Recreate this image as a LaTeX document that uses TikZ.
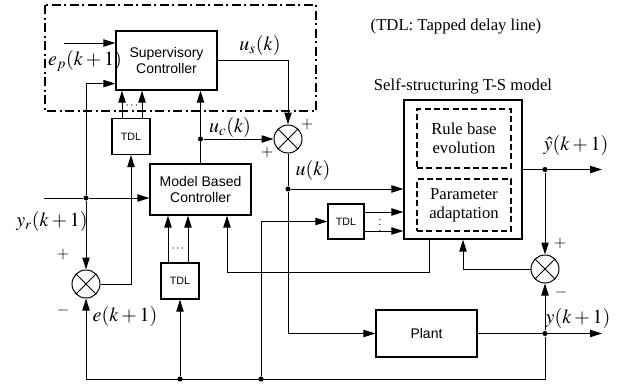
\documentclass[tikz,border=0pt]{standalone}
\usepackage{mathptmx}
\usepackage{fontspec}
\setmainfont{Liberation Serif}
\setsansfont{Liberation Sans}
\usetikzlibrary{arrows.meta,calc}

\tikzset{every picture/.style={line width=0.75pt}}
\tikzset{
  arr/.style={-{Triangle[length=9pt,width=5.5pt]}},
  blk/.style={draw, line width=0.9pt, align=center, inner sep=0pt, font=\sffamily\fontsize{10.5}{12.5}\selectfont},
  tdl/.style={draw, line width=0.9pt, inner sep=0pt, minimum width=28.5pt, minimum height=27pt, font=\sffamily\fontsize{8}{9}\selectfont},
  subblk/.style={draw, line width=1.3pt, dash pattern=on 4.5pt off 2.5pt, align=center, inner sep=0pt, minimum width=70.5pt, font=\fontsize{12.5}{14.5}\selectfont},
  sumnode/.style={draw, circle, minimum size=21pt, inner sep=0pt,
    path picture={\draw (path picture bounding box.north west) -- (path picture bounding box.south east)
      (path picture bounding box.north east) -- (path picture bounding box.south west);}},
  jdot/.style={circle, fill, inner sep=0pt, minimum size=3.8pt},
  mlbl/.style={inner sep=0.75pt, font=\fontsize{15}{18}\selectfont},
  sgn/.style={inner sep=0.75pt, font=\fontsize{12}{14}\selectfont},
  txt/.style={inner sep=0.75pt, font=\fontsize{12.5}{15}\selectfont}
}

\begin{document}
\begin{tikzpicture}[x=0.75pt,y=0.75pt,yscale=-1,xscale=1]
\useasboundingbox (0,0) rectangle (621,386);

%Shape: dash-dot frame round the supervisory part
\draw [line width=1.1pt, dash pattern=on 7pt off 2.5pt on 1.5pt off 2.5pt] (45,5) rectangle (316,111);

%Blocks
\node [blk, minimum width=75.75pt, minimum height=44.25pt] (sup) at (166.5,60.5) {Supervisory\\Controller};
\node [blk, minimum width=75.75pt, minimum height=38.25pt] (mbc) at (200.5,189.5) {Model Based\\Controller};
\node [blk, minimum width=75.75pt, minimum height=35.25pt] (plant) at (426.5,333.5) {Plant};
\node [tdl] (tdlA) at (131,136.5) {TDL};
\node [tdl] (tdlB) at (180,281) {TDL};
\node [tdl, minimum width=27pt, minimum height=26.25pt] (tdlC) at (346,221.5) {TDL};
\node [blk, minimum width=88.5pt, minimum height=104.25pt] (ts) at (463,169.5) {};
\node [subblk, minimum height=44.25pt] (rule) at (464,138.5) {Rule base\\evolution};
\node [subblk, minimum height=39pt] (param) at (464,205) {Parameter\\adaptation};

%Summing junctions
\node [sumnode] (s1) at (86,284) {};
\node [sumnode] (s2) at (288,139) {};
\node [sumnode] (s3) at (545,269) {};

%Branch points and free ends
\coordinate (epin) at (64,43);
\coordinate (yrin) at (44,198);
\coordinate (bl) at (86,379);
\coordinate (yhout) at (602,169.5);
\coordinate (yout) at (602,333.5);
\node [jdot] (ja) at (86,198) {};
\node [jdot] (jc) at (200.5,139) {};
\node [jdot] (ju) at (288,189) {};
\node [jdot] (jh) at (545,169.5) {};
\node [jdot] (jy) at (545,333.5) {};
\node [jdot] (jb1) at (180,379) {};
\node [jdot] (jb2) at (261,379) {};

%Straight Lines
\draw [arr] (epin) -- (epin -| sup.west);
\draw (yrin) -- (ja);
\draw [arr] (ja) -- (ja -| mbc.west);
\draw [arr] (ja) |- ($(sup.south west)+(0,-7)$);
\draw [arr] (ja) -- (s1.north);
\draw [arr] (s1.east) -| (tdlA.south);
\draw [arr] ($(tdlA.north)+(-9,0)$) coordinate (a1) -- (a1 |- sup.south);
\draw [arr] ($(tdlA.north)+(11,0)$) coordinate (a2) -- (a2 |- sup.south);
\draw [arr] (mbc.north) -- (mbc.north |- sup.south);
\draw [arr] (jc) -- (s2.west);
\draw [arr] (sup.east) -| (s2.north);
\draw (s2.south) -- (ju);
\draw [arr] (ju) -- (ju -| ts.west);
\draw [arr] (ju) |- (plant.west);
\draw [arr] (plant.east) -- (yout);
\draw [arr] (jy) |- (bl) -- (s1.south);
\draw [arr] (jy) -- (s3.south);
\draw [arr] (jb1) -- (tdlB.south);
\draw [arr] (jb2) |- (tdlC.west);
\draw [arr] ($(tdlB.north)+(-12,0)$) coordinate (b1) -- (b1 |- mbc.south);
\draw [arr] ($(tdlB.north)+(8,0)$) coordinate (b2) -- (b2 |- mbc.south);
\draw [arr] ($(tdlC.east)+(0,-9.5)$) coordinate (c1) -- (c1 -| ts.west);
\draw [arr] ($(tdlC.east)+(0,9.5)$) coordinate (c2) -- (c2 -| ts.west);
\draw [arr] ($(ts.south)+(-34,0)$) -- ++(0,33) -| ($(mbc.south)+(26.5,0)$);
\draw [arr] (ts.east) -- (yhout);
\draw [arr] (jh) -- (s3.north);
\draw [arr] (s3.west) -| (ts.south);

% Text Node
\node [inner sep=0pt, font=\fontsize{9}{10}\selectfont] (dA) at (132,106) {$\cdots$};
\node [inner sep=0pt, font=\fontsize{9}{10}\selectfont] (dB) at (178,249) {$\cdots$};
\node [inner sep=0pt, font=\fontsize{8}{9}\selectfont] (dC) at (380,221.5) {$\vdots$};
% Text Node
\node [mlbl] (epl) at (85,61) {$e_p(k+1)$};
\node [mlbl] (usl) at (260,45) {$u_s(k)$};
\node [mlbl] (ucl) at (230,127) {$u_c(k)$};
\node [mlbl] (ul) at (313,170) {$u(k)$};
\node [mlbl] (yrl) at (52,221) {$y_r(k+1)$};
\node [mlbl] (el) at (125,316) {$e(k+1)$};
\node [mlbl] (yhl) at (576,145) {$\hat{y}(k+1)$};
\node [mlbl] (yl) at (578,318) {$y(k+1)$};
% Text Node
\node [sgn] (p1) at (307,124) {$+$};
\node [sgn] (p2) at (267,152) {$+$};
\node [sgn] (p3) at (63,254) {$+$};
\node [sgn] (m1) at (63,310) {$-$};
\node [sgn] (p4) at (560,243) {$+$};
\node [sgn] (m2) at (561,292) {$-$};
% Text Node
\node [txt] (note) at (456,27) {(TDL: Tapped delay line)};
\node [txt] (tstitle) at (463,86) {Self-structuring T-S model};

\end{tikzpicture}
\end{document}
